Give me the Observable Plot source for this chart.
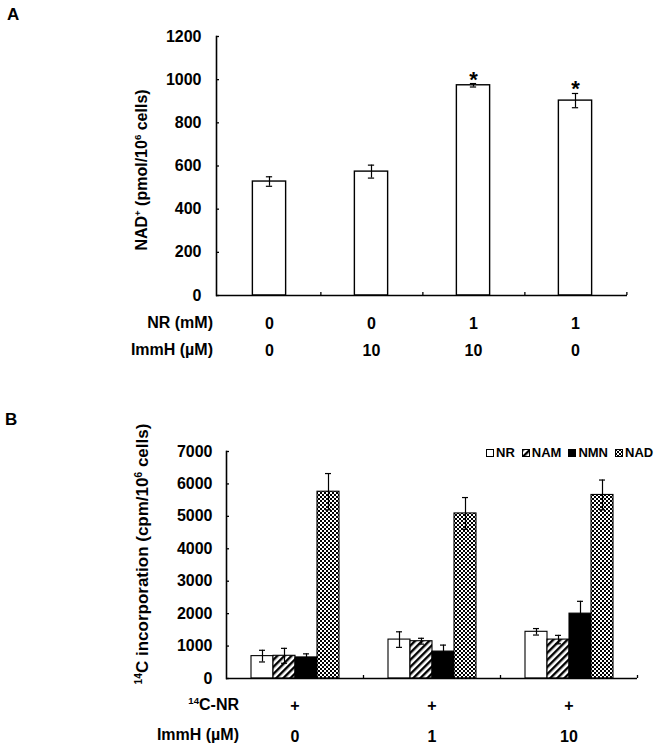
<!DOCTYPE html>
<html><head><meta charset="utf-8">
<script src="https://cdn.jsdelivr.net/npm/d3@7"></script>
<script src="https://cdn.jsdelivr.net/npm/@observablehq/plot@0.6"></script>
<style>
body{margin:0;background:#fff;}
#page{position:relative;width:656px;height:748px;overflow:hidden;background:#fff;font-family:"Liberation Sans",Arial,sans-serif;font-weight:bold;color:#000;}
#page svg{position:absolute;}
.abs{position:absolute;white-space:nowrap;line-height:1;}
.ytitle{transform:translate(-50%,-50%) rotate(-90deg);}
.rowlab{transform:translate(-100%,-50%);font-size:16px;}
sup{font-size:0.6em;vertical-align:0;position:relative;top:-0.6em;}
.leg{display:flex;align-items:center;font-size:13px;}
.leg span.item{display:flex;align-items:center;margin-right:7px;}
.leg svg{position:static !important;margin-right:2px;}
</style></head>
<body>
<div id="page">
<svg width="0" height="0" style="left:0;top:0"><defs>
<pattern id="hatch" patternUnits="userSpaceOnUse" width="5" height="5" patternTransform="rotate(45)"><rect width="5" height="5" fill="#fff"/><rect width="2.4" height="5" fill="#000"/></pattern>
<pattern id="checker" patternUnits="userSpaceOnUse" width="4" height="4"><rect width="4" height="4" fill="#fff"/><rect width="2" height="2" fill="#000"/><rect x="2" y="2" width="2" height="2" fill="#000"/></pattern>
</defs></svg>
</div>
<script>
// ---------- Panel A data ----------
const nrLevelsA = [0, 0, 1, 1];          // NR (mM)
const immhLevelsA = [0, 10, 10, 0];      // ImmH (µM)
const nadMeanA = [528, 574, 974, 903];   // NAD+ pmol/10^6 cells
const nadErrA = [22, 30, 8, 33];
const sigA = ["", "", "*", "*"];
const yTicksA = [0, 200, 400, 600, 800, 1000, 1200];

// ---------- Panel B data ----------
const immhLevelsB = [0, 1, 10];          // ImmH (µM)
const c14nrB = ["+", "+", "+"];
const seriesB = ["NR", "NAM", "NMN", "NAD"];
const nrValsB = [690, 1200, 1440];
const namValsB = [700, 1150, 1200];
const nmnValsB = [650, 830, 2000];
const nadValsB = [5760, 5090, 5660];
const nrErrB = [180, 240, 100];
const namErrB = [230, 90, 130];
const nmnErrB = [110, 200, 380];
const nadErrB = [560, 490, 460];
const fillsB = ["white", "url(#hatch)", "black", "url(#checker)"];
const yTicksB = [0, 1000, 2000, 3000, 4000, 5000, 6000, 7000];

const FONT = '"Liberation Sans", Arial, sans-serif';
const page = document.getElementById("page");
const intFmt = d3.format("d");

// ---------- Panel A ----------
const condIdx = nrLevelsA.map((_, i) => i);
const dataA = condIdx.map(i => ({i, v: nadMeanA[i], e: nadErrA[i], s: sigA[i]}));
const WA = 656, mlA = 216, mrA = 29;
const stepA = (WA - mlA - mrA) / condIdx.length;
const plotA = Plot.plot({
  width: WA, height: 365,
  marginTop: 36, marginBottom: 70, marginLeft: mlA, marginRight: mrA,
  style: {fontFamily: FONT, fontWeight: "bold", fontSize: "16px", color: "#000", background: "none", overflow: "visible"},
  x: {type: "band", domain: condIdx, padding: 0, axis: null},
  y: {domain: [0, 1200], axis: null},
  marks: [
    Plot.barY(dataA, {x: "i", y: "v", fill: "white", stroke: "black", strokeWidth: 1.4, insetLeft: (stepA - 34) / 2, insetRight: (stepA - 34) / 2}),
    Plot.ruleX(dataA, {x: "i", y1: d => d.v - d.e, y2: d => d.v + d.e, stroke: "black", strokeWidth: 1.2}),
    Plot.tickY(dataA, {x: "i", y: d => d.v + d.e, inset: (stepA - 7) / 2, stroke: "black", strokeWidth: 1.2}),
    Plot.tickY(dataA, {x: "i", y: d => d.v - d.e, inset: (stepA - 7) / 2, stroke: "black", strokeWidth: 1.2}),
    Plot.text(dataA, {x: "i", y: d => d.v + d.e, text: "s", lineAnchor: "bottom", dy: 3, fontSize: 22, fontWeight: "bold"}),
    Plot.ruleY([0], {stroke: "black", strokeWidth: 1.6}),
    Plot.frame({anchor: "left", stroke: "black", strokeWidth: 1.6}),
    Plot.axisY({ticks: yTicksA, tickSize: 0, tickPadding: 15, tickFormat: intFmt, label: null}),
    Plot.axisY({ticks: yTicksA, tickSize: 3, dx: 3, tickFormat: () => "", label: null, strokeWidth: 1.3}),
    Plot.axisX({tickSize: 3, dy: -3, dx: stepA / 2, tickFormat: () => "", label: null, strokeWidth: 1.3}),
    Plot.axisX({tickSize: 0, tickPadding: 22, tickFormat: i => nrLevelsA[i], label: null}),
    Plot.axisX({tickSize: 0, tickPadding: 49, tickFormat: i => immhLevelsA[i], label: null})
  ]
});
plotA.style.left = "0px"; plotA.style.top = "0px";
page.appendChild(plotA);

// ---------- Panel B ----------
const groupIdx = immhLevelsB.map((_, i) => i);
const valsB = [nrValsB, namValsB, nmnValsB, nadValsB];
const errsB = [nrErrB, namErrB, nmnErrB, nadErrB];
const dataB = [];
groupIdx.forEach(g => seriesB.forEach((s, k) => dataB.push({g, s, v: valsB[k][g], e: errsB[k][g]})));
const WB = 656, mlB = 226, mrB = 19;
const stepB = (WB - mlB - mrB) / groupIdx.length;
const plotB = Plot.plot({
  width: WB, height: 368,
  marginTop: 71, marginBottom: 70, marginLeft: mlB, marginRight: mrB,
  style: {fontFamily: FONT, fontWeight: "bold", fontSize: "16px", color: "#000", background: "none", overflow: "visible"},
  fx: {domain: groupIdx, padding: 0, axis: null, label: null},
  x: {domain: seriesB, paddingInner: 0, paddingOuter: 0.98, axis: null},
  y: {domain: [0, 7000], axis: null},
  color: {domain: seriesB, range: fillsB},
  marks: [
    Plot.barY(dataB, {fx: "g", x: "s", y: "v", fill: "s", stroke: "black", strokeWidth: 1.1}),
    Plot.ruleX(dataB, {fx: "g", x: "s", y1: d => d.v - d.e, y2: d => d.v + d.e, stroke: "black", strokeWidth: 1.2}),
    Plot.tickY(dataB, {fx: "g", x: "s", y: d => d.v + d.e, inset: 8, stroke: "black", strokeWidth: 1.2}),
    Plot.tickY(dataB, {fx: "g", x: "s", y: d => d.v - d.e, inset: 8, stroke: "black", strokeWidth: 1.2}),
    Plot.ruleY([0], {stroke: "black", strokeWidth: 1.6}),
    Plot.frame({anchor: "left", facet: "super", stroke: "black", strokeWidth: 1.6}),
    Plot.axisY({ticks: yTicksB, tickSize: 0, tickPadding: 14, tickFormat: intFmt, label: null}),
    Plot.axisY({ticks: yTicksB, tickSize: 3, dx: 3, tickFormat: () => "", label: null, strokeWidth: 1.3}),
    Plot.axisFx({anchor: "bottom", tickSize: 3, dy: -3, dx: stepB / 2, tickFormat: () => "", label: null, strokeWidth: 1.3}),
    Plot.axisFx({anchor: "bottom", tickSize: 0, tickPadding: 21, tickFormat: g => c14nrB[g], label: null}),
    Plot.axisFx({anchor: "bottom", tickSize: 0, tickPadding: 52, tickFormat: g => immhLevelsB[g], label: null})
  ]
});
plotB.style.left = "0px"; plotB.style.top = "380px";
page.appendChild(plotB);

// ---------- HTML text ----------
function addText(html, cls, css) {
  const d = document.createElement("div");
  d.className = "abs " + cls;
  d.innerHTML = html;
  Object.assign(d.style, css);
  page.appendChild(d);
  return d;
}
addText("A", "", {left: "7px", top: "6px", fontSize: "17px"});
addText("B", "", {left: "5px", top: "411px", fontSize: "17px"});
addText("NAD<sup>+</sup> (pmol/10<sup>6</sup> cells)", "ytitle", {left: "142px", top: "170px", fontSize: "16px"});
addText("<sup>14</sup>C incorporation (cpm/10<sup>6</sup> cells)", "ytitle", {left: "142px", top: "554px", fontSize: "17px"});
addText("NR (mM)", "rowlab", {left: "213px", top: "323px"});
addText("ImmH (\u00b5M)", "rowlab", {left: "213px", top: "350px"});
addText("<sup>14</sup>C-NR", "rowlab", {left: "239px", top: "705px"});
addText("ImmH (\u00b5M)", "rowlab", {left: "239px", top: "735px"});

// legend
const leg = addText("", "leg", {left: "486px", top: "446px"});
seriesB.forEach((s, k) => {
  const item = document.createElement("span");
  item.className = "item";
  item.innerHTML = `<svg width="8" height="8"><rect x="0.5" y="0.5" width="7" height="7" fill="${fillsB[k]}" stroke="black" stroke-width="1"/></svg>${s}`;
  leg.appendChild(item);
});
</script>
</body></html>
